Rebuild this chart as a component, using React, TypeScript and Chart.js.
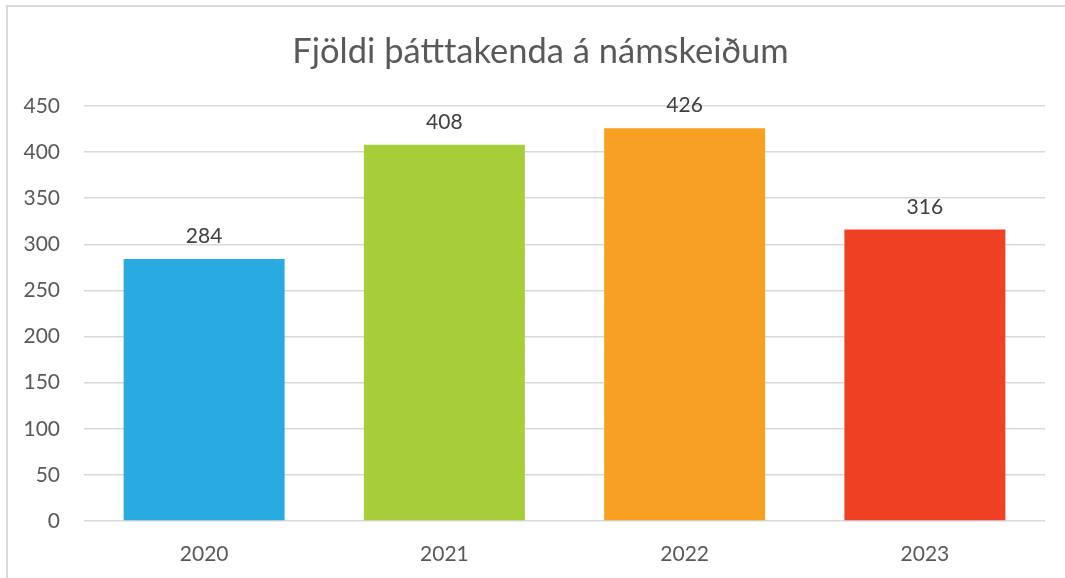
import React, { useEffect, useRef } from "react";
import { Chart, registerables } from "chart.js";

Chart.register(...registerables);

const TITLE = "Fjöldi þátttakenda á námskeiðum";
const CATEGORIES = ["2020", "2021", "2022", "2023"];
const VALUES = [284, 408, 426, 316];
const BAR_COLORS = ["#29ABE2", "#A6CE39", "#F7A021", "#EF4023"];
const Y_MAX = 450;
const Y_STEP = 50;

const FONT = "Lato, 'Open Sans', sans-serif";

const valueLabels = {
  id: "valueLabels",
  afterDatasetsDraw(chart: any) {
    const ctx = chart.ctx;
    const meta = chart.getDatasetMeta(0);
    ctx.save();
    ctx.font = `21px ${FONT}`;
    ctx.fillStyle = "#404040";
    ctx.textAlign = "center";
    ctx.textBaseline = "alphabetic";
    meta.data.forEach((bar: any, i: number) => {
      const v = chart.data.datasets[0].data[i];
      ctx.fillText(String(v), bar.x, bar.y - 16);
    });
    ctx.restore();
  },
};

const centeredTitle = {
  id: "centeredTitle",
  afterDraw(chart: any) {
    const ctx = chart.ctx;
    ctx.save();
    ctx.font = `34.5px ${FONT}`;
    ctx.fillStyle = "#595959";
    ctx.textAlign = "center";
    ctx.textBaseline = "alphabetic";
    ctx.fillText(TITLE, 540.5, 63);
    ctx.restore();
  },
};

export default function App() {
  const ref = useRef<HTMLCanvasElement | null>(null);

  useEffect(() => {
    if (!ref.current) return;
    const chart = new Chart(ref.current, {
      type: "bar",
      data: {
        labels: CATEGORIES,
        datasets: [
          {
            data: VALUES,
            backgroundColor: BAR_COLORS,
            barPercentage: 0.67,
            categoryPercentage: 1,
          },
        ],
      },
      options: {
        animation: false,
        responsive: false,
        maintainAspectRatio: false,
        layout: { padding: { left: 0, right: 20, top: 106, bottom: 13 } },
        plugins: {
          legend: { display: false },
          tooltip: { enabled: false },
          title: { display: false },
        },
        scales: {
          x: {
            afterFit(scale: any) {
              scale.height = 44;
            },
            grid: { display: false },
            border: { display: false },
            ticks: {
              color: "#595959",
              font: { family: FONT, size: 21 },
              padding: 13,
            },
          },
          y: {
            min: 0,
            max: Y_MAX,
            afterFit(scale: any) {
              scale.width = 84;
            },
            grid: { color: "#D9D9D9", lineWidth: 1.5, drawTicks: false },
            border: { display: false },
            ticks: {
              stepSize: Y_STEP,
              color: "#595959",
              font: { family: FONT, size: 21 },
              padding: 24,
            },
          },
        },
      },
      plugins: [valueLabels, centeredTitle],
    });
    return () => chart.destroy();
  }, []);

  return (
    <div
      style={{
        position: "fixed",
        left: 0,
        top: 0,
        width: 1065,
        height: 578,
        overflow: "hidden",
        background: "#ffffff",
      }}
    >
      <div
        style={{
          position: "absolute",
          left: 6,
          top: 5,
          width: 2000,
          height: 2000,
          borderLeft: "2px solid #D9D9D9",
          borderTop: "2px solid #D9D9D9",
        }}
      />
      <canvas
        ref={ref}
        width={1065}
        height={578}
        style={{ position: "absolute", left: 0, top: 0, width: 1065, height: 578 }}
      />
    </div>
  );
}
